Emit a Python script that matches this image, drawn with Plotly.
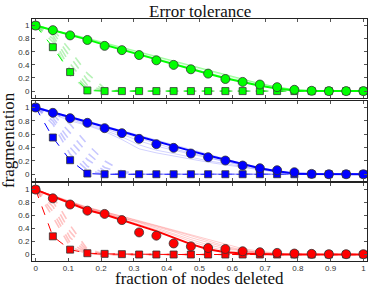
import plotly.graph_objects as go

# fraction of nodes deleted
frac = [0, 0.0526, 0.1053, 0.1579, 0.2105, 0.2632, 0.3158, 0.3684, 0.4211, 0.4737,
        0.5263, 0.5789, 0.6316, 0.6842, 0.7368, 0.7895, 0.8421, 0.8947, 0.9474, 1.0]

# ---- green panel ----
green_circles = [1.0, 0.93, 0.85, 0.78, 0.69, 0.625, 0.55, 0.47, 0.40, 0.333,
                 0.267, 0.185, 0.14, 0.10, 0.06, 0.02, 0.005, 0, 0, 0]
green_squares = [1.0, 0.67, 0.29, 0.01, 0, 0, 0, 0, 0, 0, 0, 0, 0, 0, 0, 0, 0, 0, 0, 0]
green_line = [1.0, 0.93, 0.86, 0.785, 0.705, 0.63, 0.555, 0.48, 0.405, 0.335,
              0.265, 0.195, 0.135, 0.08, 0.04, 0.01, 0, 0, 0, 0]
green_circle_runs = [
    [1.0, 0.935, 0.87, 0.80, 0.725, 0.655, 0.585, 0.515, 0.445, 0.375, 0.305, 0.235, 0.17, 0.11, 0.06, 0.02, 0.003, 0, 0, 0],
    [1.0, 0.94, 0.875, 0.81, 0.74, 0.67, 0.60, 0.53, 0.46, 0.39, 0.32, 0.25, 0.18, 0.115, 0.06, 0.02, 0, 0, 0, 0],
    [1.0, 0.93, 0.865, 0.795, 0.72, 0.645, 0.57, 0.495, 0.42, 0.35, 0.28, 0.21, 0.15, 0.095, 0.05, 0.015, 0, 0, 0, 0],
    [1.0, 0.935, 0.875, 0.805, 0.735, 0.665, 0.595, 0.525, 0.455, 0.385, 0.315, 0.245, 0.175, 0.115, 0.065, 0.025, 0.005, 0, 0, 0],
]
green_square_runs = [
    [1.0, 0.95, 0.62, 0.27, 0.04, 0, 0, 0, 0, 0, 0, 0, 0, 0, 0, 0, 0, 0, 0, 0],
    [1.0, 0.90, 0.52, 0.17, 0.015, 0, 0, 0, 0, 0, 0, 0, 0, 0, 0, 0, 0, 0, 0, 0],
    [1.0, 0.85, 0.42, 0.09, 0.005, 0, 0, 0, 0, 0, 0, 0, 0, 0, 0, 0, 0, 0, 0, 0],
    [1.0, 0.80, 0.33, 0.04, 0, 0, 0, 0, 0, 0, 0, 0, 0, 0, 0, 0, 0, 0, 0, 0],
    [1.0, 0.75, 0.24, 0.015, 0, 0, 0, 0, 0, 0, 0, 0, 0, 0, 0, 0, 0, 0, 0, 0],
]

# ---- blue panel ----
blue_circles = [1.0, 0.92, 0.84, 0.77, 0.69, 0.615, 0.53, 0.45, 0.395, 0.31,
                0.255, 0.205, 0.13, 0.09, 0.06, 0.03, 0.005, 0, 0, 0]
blue_squares = [1.0, 0.55, 0.21, 0.01, 0, 0, 0, 0, 0, 0, 0, 0, 0, 0, 0, 0, 0, 0, 0, 0]
blue_line = [1.0, 0.93, 0.855, 0.785, 0.715, 0.64, 0.565, 0.49, 0.42, 0.35,
             0.28, 0.215, 0.15, 0.09, 0.045, 0.012, 0.002, 0, 0, 0]
blue_circle_runs = [
    [1.0, 0.935, 0.865, 0.795, 0.725, 0.655, 0.58, 0.505, 0.435, 0.365, 0.295, 0.225, 0.16, 0.10, 0.05, 0.015, 0, 0, 0, 0],
    [1.0, 0.92, 0.83, 0.75, 0.68, 0.60, 0.50, 0.42, 0.36, 0.30, 0.24, 0.19, 0.13, 0.08, 0.04, 0.01, 0, 0, 0, 0],
    [1.0, 0.90, 0.80, 0.73, 0.64, 0.52, 0.38, 0.32, 0.27, 0.22, 0.18, 0.14, 0.10, 0.06, 0.03, 0.01, 0, 0, 0, 0],
    [1.0, 0.91, 0.82, 0.74, 0.66, 0.56, 0.44, 0.36, 0.31, 0.25, 0.20, 0.16, 0.11, 0.07, 0.035, 0.01, 0, 0, 0, 0],
    [1.0, 0.93, 0.85, 0.78, 0.70, 0.62, 0.54, 0.46, 0.38, 0.32, 0.25, 0.19, 0.14, 0.09, 0.05, 0.015, 0, 0, 0, 0],
]
blue_square_runs = [
    [1.0, 0.95, 0.75, 0.45, 0.20, 0.05, 0, 0, 0, 0, 0, 0, 0, 0, 0, 0, 0, 0, 0, 0],
    [1.0, 0.90, 0.62, 0.32, 0.10, 0.02, 0, 0, 0, 0, 0, 0, 0, 0, 0, 0, 0, 0, 0, 0],
    [1.0, 0.85, 0.50, 0.22, 0.05, 0, 0, 0, 0, 0, 0, 0, 0, 0, 0, 0, 0, 0, 0, 0],
    [1.0, 0.80, 0.40, 0.12, 0.02, 0, 0, 0, 0, 0, 0, 0, 0, 0, 0, 0, 0, 0, 0, 0],
    [1.0, 0.75, 0.30, 0.06, 0, 0, 0, 0, 0, 0, 0, 0, 0, 0, 0, 0, 0, 0, 0, 0],
]

# ---- red panel ----
red_circles = [1.0, 0.865, 0.77, 0.675, 0.625, 0.53, 0.34, 0.29, 0.17, 0.125,
               0.10, 0.085, 0.05, 0.035, 0.025, 0.015, 0.01, 0.005, 0.005, 0.005]
red_squares = [1.0, 0.28, 0.075, 0.02, 0.01, 0.005, 0, 0, 0, 0, 0, 0, 0, 0, 0, 0, 0, 0, 0, 0]
red_line = [1.0, 0.895, 0.79, 0.685, 0.615, 0.53, 0.45, 0.36, 0.26, 0.16,
            0.08, 0.035, 0.015, 0.005, 0, 0, 0, 0, 0, 0]
red_circle_runs = [
    [1.0, 0.90, 0.81, 0.72, 0.65, 0.57, 0.49, 0.41, 0.32, 0.23, 0.15, 0.09, 0.05, 0.02, 0.005, 0, 0, 0, 0, 0],
    [1.0, 0.91, 0.82, 0.73, 0.66, 0.58, 0.51, 0.44, 0.37, 0.29, 0.21, 0.13, 0.07, 0.03, 0.01, 0, 0, 0, 0, 0],
    [1.0, 0.89, 0.80, 0.70, 0.63, 0.55, 0.47, 0.39, 0.30, 0.20, 0.12, 0.06, 0.03, 0.01, 0, 0, 0, 0, 0, 0],
    [1.0, 0.90, 0.80, 0.71, 0.64, 0.56, 0.50, 0.43, 0.35, 0.26, 0.18, 0.11, 0.06, 0.03, 0.01, 0, 0, 0, 0, 0],
    [1.0, 0.90, 0.81, 0.72, 0.66, 0.59, 0.52, 0.45, 0.38, 0.31, 0.24, 0.16, 0.09, 0.05, 0.02, 0.005, 0, 0, 0, 0],
]
red_square_runs = [
    [1.0, 0.90, 0.45, 0.08, 0.01, 0, 0, 0, 0, 0, 0, 0, 0, 0, 0, 0, 0, 0, 0, 0],
    [1.0, 0.82, 0.35, 0.05, 0, 0, 0, 0, 0, 0, 0, 0, 0, 0, 0, 0, 0, 0, 0, 0],
    [1.0, 0.74, 0.26, 0.03, 0, 0, 0, 0, 0, 0, 0, 0, 0, 0, 0, 0, 0, 0, 0, 0],
    [1.0, 0.66, 0.18, 0.02, 0, 0, 0, 0, 0, 0, 0, 0, 0, 0, 0, 0, 0, 0, 0, 0],
    [1.0, 0.58, 0.12, 0.01, 0, 0, 0, 0, 0, 0, 0, 0, 0, 0, 0, 0, 0, 0, 0, 0],
]

y_ticks = [0, 0.2, 0.4, 0.6, 0.8, 1]
y_ticklabels = ["0", "0.2", "0.4", "0.6", "0.8", "1"]
x_ticks = [0, 0.1, 0.2, 0.3, 0.4, 0.5, 0.6, 0.7, 0.8, 0.9, 1]
x_ticklabels = ["0", "0.1", "0.2", "0.3", "0.4", "0.5", "0.6", "0.7", "0.8", "0.9", "1"]

panels = [
    ("#00ff00", "rgba(0,255,0,0.22)", "rgba(0,210,0,0.28)", green_circles, green_squares, green_line, green_circle_runs, green_square_runs, ""),
    ("#0000ff", "rgba(0,0,255,0.18)", "rgba(0,0,255,0.22)", blue_circles, blue_squares, blue_line, blue_circle_runs, blue_square_runs, "2"),
    ("#ff0000", "rgba(255,0,0,0.20)", "rgba(255,0,0,0.24)", red_circles, red_squares, red_line, red_circle_runs, red_square_runs, "3"),
]

fig = go.Figure()
for color, faint, faint_dash, circ, sq, line, crun, srun, suf in panels:
    xa = "x" + suf
    ya = "y" + suf
    for r in crun:
        fig.add_trace(go.Scatter(x=frac, y=r, mode="lines", xaxis=xa, yaxis=ya,
                                 line=dict(color=faint, width=1), hoverinfo="skip"))
    for r in srun:
        fig.add_trace(go.Scatter(x=frac, y=r, mode="lines", xaxis=xa, yaxis=ya,
                                 line=dict(color=faint_dash, width=1.6, dash="dash"), hoverinfo="skip"))
    fig.add_trace(go.Scatter(x=frac, y=line, mode="lines", xaxis=xa, yaxis=ya,
                             line=dict(color=color, width=2)))
    fig.add_trace(go.Scatter(x=frac, y=sq, mode="lines+markers", xaxis=xa, yaxis=ya,
                             line=dict(color=color, width=1, dash="dash"),
                             marker=dict(symbol="square", size=7, color=color,
                                         line=dict(color="#333333", width=0.8))))
    fig.add_trace(go.Scatter(x=frac, y=circ, mode="markers", xaxis=xa, yaxis=ya,
                             marker=dict(symbol="circle", size=9, color=color,
                                         line=dict(color="#333333", width=0.8))))

tickfont = dict(family="Liberation Sans, Arial, sans-serif", size=8, color="#333333")
common_x = dict(range=[-0.011, 1.011], showgrid=False, zeroline=False, showline=True,
                linecolor="#222222", linewidth=1, mirror="ticks", ticks="inside",
                ticklen=3, tickcolor="#555555", tickvals=x_ticks, ticktext=x_ticklabels,
                tickfont=tickfont, automargin=False, ticklabelstandoff=-1)
common_y = dict(range=[-0.1, 1.1], showgrid=False, zeroline=False, showline=True,
                linecolor="#222222", linewidth=1, mirror="ticks", ticks="inside",
                ticklen=3, tickcolor="#555555", tickvals=y_ticks, ticktext=y_ticklabels,
                tickfont=tickfont, automargin=False)

fig.update_layout(
    width=374, height=287,
    margin=dict(l=32, r=7, t=19, b=26),
    paper_bgcolor="white", plot_bgcolor="white",
    showlegend=False,
    xaxis=dict(common_x, anchor="y", showticklabels=False),
    yaxis=dict(common_y, domain=[0.675, 1.0], anchor="x"),
    xaxis2=dict(common_x, anchor="y2", showticklabels=False),
    yaxis2=dict(common_y, domain=[0.331, 0.662], anchor="x2"),
    xaxis3=dict(common_x, anchor="y3", showticklabels=True),
    yaxis3=dict(common_y, domain=[0.0, 0.322], anchor="x3"),
)

serif = dict(family="Liberation Serif, Times New Roman, serif", size=17, color="#111111")
fig.add_annotation(text="Error tolerance", xref="paper", yref="paper", x=0.5, y=1.0,
                   yshift=8, showarrow=False, xanchor="center", yanchor="middle", font=serif)
fig.add_annotation(text="fraction of nodes deleted", xref="paper", yref="paper", x=0.5, y=0,
                   yshift=-17, showarrow=False, xanchor="center", yanchor="middle", font=serif)
fig.add_annotation(text="fragmentation", xref="paper", yref="paper", x=0, y=0.5,
                   xshift=-24, showarrow=False, textangle=-90, xanchor="center",
                   yanchor="middle", font=serif)

fig.write_html("out.html", config={"displayModeBar": False},
               post_script="document.body.style.margin='0';document.body.style.padding='0';")
